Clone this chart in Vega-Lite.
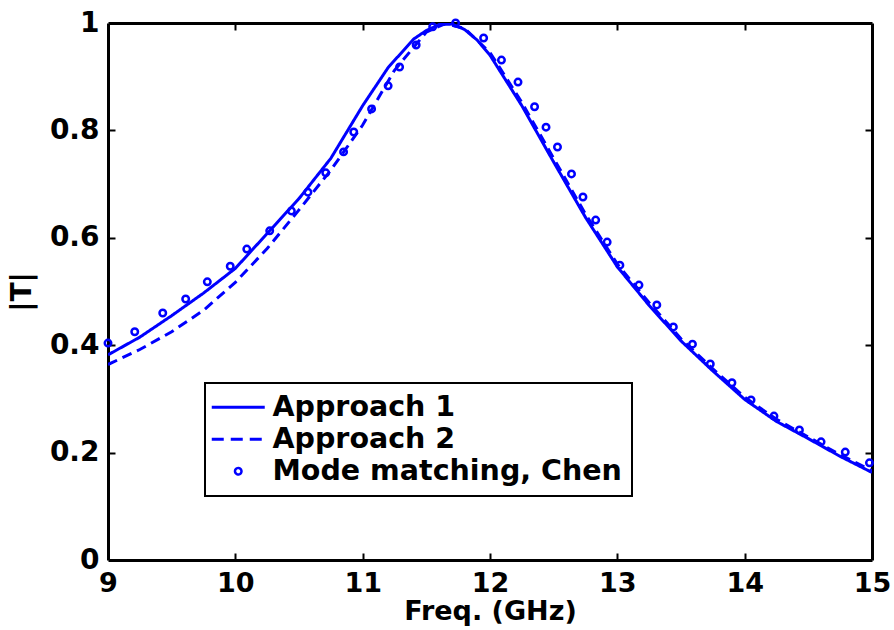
{
  "$schema": "https://vega.github.io/schema/vega-lite/v6.json",
  "width": 764,
  "height": 537,
  "autosize": "none",
  "padding": {"left": 108, "top": 23, "right": 22, "bottom": 70},
  "background": "white",
  "config": {
    "view": {"stroke": null},
    "font": "DejaVu Sans",
    "axis": {
      "grid": false,
      "domainColor": "black",
      "domainWidth": 3,
      "tickColor": "black",
      "tickWidth": 2,
      "tickSize": 7,
      "labelFlush": false,
      "labelOverlap": false,
      "labelFont": "DejaVu Sans",
      "labelFontWeight": "bold",
      "labelFontSize": 28,
      "labelColor": "black",
      "titleFont": "DejaVu Sans",
      "titleFontWeight": "bold",
      "titleFontSize": 28,
      "titleColor": "black"
    }
  },
  "data": {
    "values": [
      {"series": "Approach 1", "f": 9.0, "T": 0.382},
      {"series": "Approach 1", "f": 9.25, "T": 0.415},
      {"series": "Approach 1", "f": 9.5, "T": 0.455},
      {"series": "Approach 1", "f": 9.75, "T": 0.497},
      {"series": "Approach 1", "f": 10.0, "T": 0.543},
      {"series": "Approach 1", "f": 10.25, "T": 0.608},
      {"series": "Approach 1", "f": 10.5, "T": 0.673},
      {"series": "Approach 1", "f": 10.75, "T": 0.748},
      {"series": "Approach 1", "f": 11.0, "T": 0.846},
      {"series": "Approach 1", "f": 11.2, "T": 0.917},
      {"series": "Approach 1", "f": 11.4, "T": 0.970},
      {"series": "Approach 1", "f": 11.5, "T": 0.986},
      {"series": "Approach 1", "f": 11.6, "T": 0.997},
      {"series": "Approach 1", "f": 11.7, "T": 0.998},
      {"series": "Approach 1", "f": 11.8, "T": 0.988},
      {"series": "Approach 1", "f": 11.9, "T": 0.968},
      {"series": "Approach 1", "f": 12.0, "T": 0.940},
      {"series": "Approach 1", "f": 12.25, "T": 0.846},
      {"series": "Approach 1", "f": 12.5, "T": 0.741},
      {"series": "Approach 1", "f": 12.75, "T": 0.638},
      {"series": "Approach 1", "f": 13.0, "T": 0.546},
      {"series": "Approach 1", "f": 13.25, "T": 0.474},
      {"series": "Approach 1", "f": 13.5, "T": 0.408},
      {"series": "Approach 1", "f": 13.75, "T": 0.352},
      {"series": "Approach 1", "f": 14.0, "T": 0.299},
      {"series": "Approach 1", "f": 14.25, "T": 0.258},
      {"series": "Approach 1", "f": 14.5, "T": 0.226},
      {"series": "Approach 1", "f": 14.75, "T": 0.193},
      {"series": "Approach 1", "f": 15.0, "T": 0.163},
      {"series": "Approach 2", "f": 9.0, "T": 0.364},
      {"series": "Approach 2", "f": 9.25, "T": 0.392},
      {"series": "Approach 2", "f": 9.5, "T": 0.425},
      {"series": "Approach 2", "f": 9.75, "T": 0.465},
      {"series": "Approach 2", "f": 10.0, "T": 0.517},
      {"series": "Approach 2", "f": 10.25, "T": 0.580},
      {"series": "Approach 2", "f": 10.5, "T": 0.652},
      {"series": "Approach 2", "f": 10.75, "T": 0.726},
      {"series": "Approach 2", "f": 11.0, "T": 0.810},
      {"series": "Approach 2", "f": 11.25, "T": 0.912},
      {"series": "Approach 2", "f": 11.5, "T": 0.983},
      {"series": "Approach 2", "f": 11.65, "T": 0.999},
      {"series": "Approach 2", "f": 11.8, "T": 0.990},
      {"series": "Approach 2", "f": 12.0, "T": 0.945},
      {"series": "Approach 2", "f": 12.25, "T": 0.852},
      {"series": "Approach 2", "f": 12.5, "T": 0.748},
      {"series": "Approach 2", "f": 12.75, "T": 0.644},
      {"series": "Approach 2", "f": 13.0, "T": 0.551},
      {"series": "Approach 2", "f": 13.25, "T": 0.479},
      {"series": "Approach 2", "f": 13.5, "T": 0.412},
      {"series": "Approach 2", "f": 13.75, "T": 0.356},
      {"series": "Approach 2", "f": 14.0, "T": 0.303},
      {"series": "Approach 2", "f": 14.25, "T": 0.262},
      {"series": "Approach 2", "f": 14.5, "T": 0.229},
      {"series": "Approach 2", "f": 14.75, "T": 0.196},
      {"series": "Approach 2", "f": 15.0, "T": 0.166},
      {"series": "Mode matching, Chen", "f": 9.0, "T": 0.404},
      {"series": "Mode matching, Chen", "f": 9.21, "T": 0.425},
      {"series": "Mode matching, Chen", "f": 9.43, "T": 0.460},
      {"series": "Mode matching, Chen", "f": 9.61, "T": 0.486},
      {"series": "Mode matching, Chen", "f": 9.78, "T": 0.518},
      {"series": "Mode matching, Chen", "f": 9.96, "T": 0.547},
      {"series": "Mode matching, Chen", "f": 10.09, "T": 0.579},
      {"series": "Mode matching, Chen", "f": 10.27, "T": 0.613},
      {"series": "Mode matching, Chen", "f": 10.44, "T": 0.650},
      {"series": "Mode matching, Chen", "f": 10.57, "T": 0.685},
      {"series": "Mode matching, Chen", "f": 10.71, "T": 0.721},
      {"series": "Mode matching, Chen", "f": 10.85, "T": 0.760},
      {"series": "Mode matching, Chen", "f": 10.93, "T": 0.797},
      {"series": "Mode matching, Chen", "f": 11.07, "T": 0.840},
      {"series": "Mode matching, Chen", "f": 11.2, "T": 0.883},
      {"series": "Mode matching, Chen", "f": 11.29, "T": 0.918},
      {"series": "Mode matching, Chen", "f": 11.42, "T": 0.959},
      {"series": "Mode matching, Chen", "f": 11.55, "T": 0.993},
      {"series": "Mode matching, Chen", "f": 11.73, "T": 1.0},
      {"series": "Mode matching, Chen", "f": 11.95, "T": 0.972},
      {"series": "Mode matching, Chen", "f": 12.09, "T": 0.931},
      {"series": "Mode matching, Chen", "f": 12.22, "T": 0.890},
      {"series": "Mode matching, Chen", "f": 12.35, "T": 0.844},
      {"series": "Mode matching, Chen", "f": 12.44, "T": 0.806},
      {"series": "Mode matching, Chen", "f": 12.53, "T": 0.769},
      {"series": "Mode matching, Chen", "f": 12.64, "T": 0.719},
      {"series": "Mode matching, Chen", "f": 12.73, "T": 0.676},
      {"series": "Mode matching, Chen", "f": 12.83, "T": 0.633},
      {"series": "Mode matching, Chen", "f": 12.92, "T": 0.592},
      {"series": "Mode matching, Chen", "f": 13.02, "T": 0.549},
      {"series": "Mode matching, Chen", "f": 13.17, "T": 0.512},
      {"series": "Mode matching, Chen", "f": 13.31, "T": 0.475},
      {"series": "Mode matching, Chen", "f": 13.44, "T": 0.434},
      {"series": "Mode matching, Chen", "f": 13.59, "T": 0.402},
      {"series": "Mode matching, Chen", "f": 13.73, "T": 0.365},
      {"series": "Mode matching, Chen", "f": 13.9, "T": 0.330},
      {"series": "Mode matching, Chen", "f": 14.05, "T": 0.298},
      {"series": "Mode matching, Chen", "f": 14.23, "T": 0.268},
      {"series": "Mode matching, Chen", "f": 14.43, "T": 0.242},
      {"series": "Mode matching, Chen", "f": 14.6, "T": 0.220},
      {"series": "Mode matching, Chen", "f": 14.79, "T": 0.201},
      {"series": "Mode matching, Chen", "f": 14.98, "T": 0.181}
    ]
  },
  "layer": [
    {
      "transform": [{"filter": "datum.series !== 'Mode matching, Chen'"}],
      "mark": {"type": "line", "strokeWidth": 3, "clip": true},
      "encoding": {
        "x": {
          "field": "f", "type": "quantitative",
          "scale": {"domain": [9, 15], "nice": false, "zero": false},
          "axis": {"orient": "bottom", "values": [9, 10, 11, 12, 13, 14, 15], "ticks": false, "title": "Freq. (GHz)", "labelFontSize": 27, "titleFontSize": 27, "labelPadding": 10, "titlePadding": 2}
        },
        "y": {
          "field": "T", "type": "quantitative",
          "scale": {"domain": [0, 1], "nice": false},
          "axis": {"orient": "left", "values": [0, 0.2, 0.4, 0.6, 0.8, 1], "ticks": false, "format": "~g", "title": "|T|", "labelPadding": 9, "titlePadding": 13}
        },
        "color": {
          "field": "series", "type": "nominal",
          "scale": {"domain": ["Approach 1", "Approach 2", "Mode matching, Chen"], "range": ["#0000ff", "#0000ff", "#0000ff"]},
          "legend": {
            "title": null,
            "orient": "none",
            "legendX": 97,
            "legendY": 360,
            "padding": 10,
            "strokeColor": "black",
            "fillColor": "white",
            "cornerRadius": 0,
            "symbolSize": 2809,
            "symbolType": "stroke",
            "symbolStrokeWidth": 3,
            "symbolOffset": 9,
            "labelFont": "DejaVu Sans",
            "labelFontWeight": "bold",
            "labelFontSize": 28.5,
            "labelColor": "black",
            "labelOffset": 20,
            "labelLimit": 0,
            "rowPadding": 3,
            "encode": {
              "legend": {"update": {"strokeWidth": {"value": 2}}},
              "symbols": {
                "update": {
                  "shape": {"signal": "datum.value === 'Mode matching, Chen' ? 'circle' : 'stroke'"},
                  "size": {"signal": "datum.value === 'Mode matching, Chen' ? 42 : 2809"},
                  "strokeDash": {"signal": "datum.value === 'Approach 2' ? [12, 7] : [1, 0]"},
                  "strokeWidth": {"signal": "datum.value === 'Mode matching, Chen' ? 2.5 : 3"},
                  "stroke": {"value": "#0000ff"},
                  "fill": {"value": "transparent"}
                }
              }
            }
          }
        },
        "strokeDash": {
          "field": "series", "type": "nominal",
          "scale": {"domain": ["Approach 1", "Approach 2"], "range": [[1, 0], [10, 6]]},
          "legend": null
        }
      }
    },
    {
      "transform": [{"filter": "datum.series === 'Mode matching, Chen'"}],
      "mark": {"type": "point", "shape": "circle", "filled": false, "size": 42, "strokeWidth": 2.5, "opacity": 1},
      "encoding": {
        "x": {
          "field": "f", "type": "quantitative",
          "axis": {"orient": "top", "values": [9, 10, 11, 12, 13, 14, 15], "ticks": false, "labels": false, "title": null}
        },
        "y": {
          "field": "T", "type": "quantitative",
          "axis": {"orient": "right", "values": [0, 0.2, 0.4, 0.6, 0.8, 1], "ticks": false, "labels": false, "title": null}
        },
        "color": {"field": "series", "type": "nominal"}
      }
    },
    {
      "transform": [{"filter": "datum.series === 'Mode matching, Chen'"}],
      "mark": {"type": "point", "opacity": 0},
      "encoding": {
        "x": {
          "field": "f", "type": "quantitative",
          "axis": {"orient": "bottom", "offset": -7, "domain": false, "labels": false, "title": null, "values": [10, 11, 12, 13, 14]}
        },
        "y": {
          "field": "T", "type": "quantitative",
          "axis": {"orient": "left", "offset": -7, "domain": false, "labels": false, "title": null, "values": [0.2, 0.4, 0.6, 0.8]}
        }
      }
    },
    {
      "transform": [{"filter": "datum.series === 'Mode matching, Chen'"}],
      "mark": {"type": "point", "opacity": 0},
      "encoding": {
        "x": {
          "field": "f", "type": "quantitative",
          "axis": {"orient": "top", "offset": -7, "domain": false, "labels": false, "title": null, "values": [10, 11, 12, 13, 14]}
        },
        "y": {
          "field": "T", "type": "quantitative",
          "axis": {"orient": "right", "offset": -7, "domain": false, "labels": false, "title": null, "values": [0.2, 0.4, 0.6, 0.8]}
        }
      }
    }
  ],
  "resolve": {"axis": {"x": "independent", "y": "independent"}}
}
